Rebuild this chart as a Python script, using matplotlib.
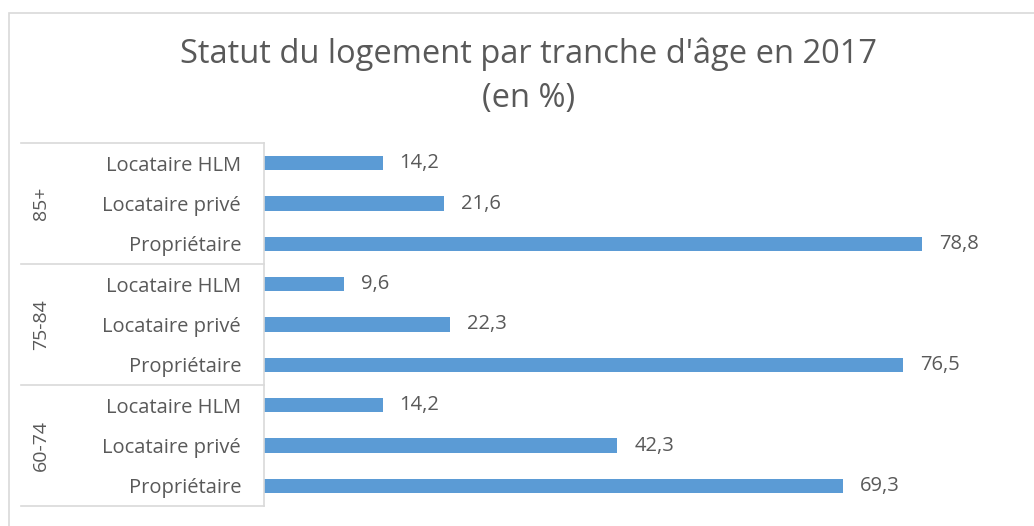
import matplotlib
matplotlib.use("Agg")
import matplotlib.pyplot as plt
from matplotlib.lines import Line2D
from matplotlib.patches import Rectangle

age_groups = ["85+", "75-84", "60-74"]
statuses = ["Locataire HLM", "Locataire privé", "Propriétaire"]
values = {
    "85+": [14.2, 21.6, 78.8],
    "75-84": [9.6, 22.3, 76.5],
    "60-74": [14.2, 42.3, 69.3],
}
title_lines = ["Statut du logement par tranche d'âge en 2017", "(en %)"]

plt.rcParams['font.family'] = ['Open Sans', 'DejaVu Sans']
txt = "#595959"
grid = "#d9d9d9"
bar_color = "#5b9bd5"

fig = plt.figure(figsize=(10.34, 5.26), dpi=100)
W, H = 1034, 526
# outer chart border
fig.patches.append(Rectangle((9 / W, -0.1), 1.2, 1 - 13 / H + 0.1, transform=fig.transFigure,
                             fill=False, edgecolor=grid, linewidth=1.2))

ax = fig.add_axes([264 / W, 1 - 506 / H, 752 / W, 363 / H])

labels, vals = [], []
for g in age_groups:
    for s, v in zip(statuses, values[g]):
        labels.append(s)
        vals.append(v)
n = len(vals)
ypos = list(range(n - 1, -1, -1))
ax.barh(ypos, vals, height=0.36, color=bar_color)
ax.set_ylim(-0.5, n - 0.5)
ax.set_xlim(0, 90)
for y, v in zip(ypos, vals):
    ax.text(v + 2.0, y, f"{v:.1f}".replace(".", ","), va="center", ha="left",
            fontsize=14.5, color=txt)

ax.set_xticks([])
ax.set_yticks(ypos)
ax.set_yticklabels(labels, fontsize=14.5, color=txt)
ax.tick_params(axis="y", length=0, pad=16.5)
for s in ["top", "right", "bottom"]:
    ax.spines[s].set_visible(False)
ax.spines["left"].set_color(grid)
ax.spines["left"].set_linewidth(1.2)

# group separators and group labels
x0 = 21 / W
x1 = 264 / W
for k in range(len(age_groups) + 1):
    yb = 1 - (143 + k * 121) / H
    fig.add_artist(Line2D([x0, x1], [yb, yb], transform=fig.transFigure,
                          color=grid, linewidth=1.2))
for k, g in enumerate(age_groups):
    yc = 1 - (143 + k * 121 + 60.5) / H
    fig.text(41 / W, yc, g, rotation=90, ha="center", va="center",
             fontsize=14, color=txt)

fig.text(529 / W, 1 - 54 / H, title_lines[0], ha="center", va="center", fontsize=23.5,
         color=txt)
fig.text(529 / W, 1 - 98 / H, title_lines[1], ha="center", va="center", fontsize=23.5,
         color=txt)

fig.savefig("out.png", dpi=100, facecolor="white")
